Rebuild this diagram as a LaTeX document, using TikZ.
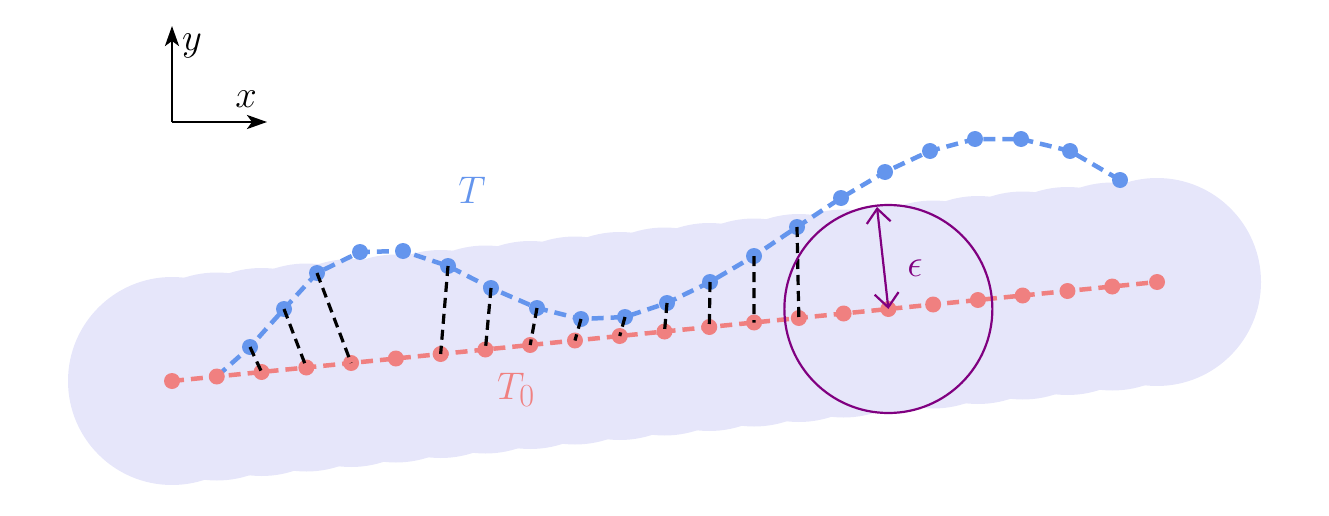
\documentclass[tikz,border=0pt]{standalone}
\usetikzlibrary{arrows.meta}
\definecolor{lav}{RGB}{230,230,250}
\definecolor{tred}{RGB}{240,128,128}
\definecolor{tblue}{RGB}{100,149,237}
\definecolor{tpurp}{RGB}{128,0,128}
\tikzset{
  tube/.style={fill=lav, draw=none},
  redline/.style={tred, line width=4.5pt, dash pattern=on 12pt off 7pt},
  blueline/.style={tblue, line width=4.5pt, dash pattern=on 12pt off 7pt},
  reddot/.style={circle, fill=tred, inner sep=0pt, minimum size=16pt},
  bluedot/.style={circle, fill=tblue, inner sep=0pt, minimum size=16pt},
  match/.style={black, line width=3.2pt, dash pattern=on 10pt off 6pt},
  axis/.style={line width=2.6pt, -{Stealth[length=20pt,width=14pt,inset=5pt]}},
  lbl/.style={font=\Huge, scale=1.55, inner sep=0pt}
}
\begin{document}
\begin{tikzpicture}[x=1pt,y=-1pt]
\useasboundingbox (0,0) rectangle (1329,516);
% tube
\foreach \i in {1,...,23} {
  \fill[tube] ({172+44.773*(\i-1)},{381-4.5*(\i-1)}) circle (104);
}
% red points coordinates
\foreach \i in {1,...,23} {
  \coordinate (r\i) at ({172+44.773*(\i-1)},{381-4.5*(\i-1)});
}
% blue points
\foreach \px/\py [count=\i] in {250/347,284/309,317/273,360/252,403/251,448/266,491/288,537/308,581/319,625/317,667/303,710/282,754/256,797/227,841/198,885/172,930/151,975/139,1021/139,1070/151,1120/180} {
  \coordinate (b\i) at (\px,\py);
}
% lines
\draw[redline] (r1) \foreach \i in {2,...,23} { -- (r\i) };
\draw[blueline] (r2) \foreach \i in {1,...,21} { -- (b\i) };
% dots
\foreach \i in {1,...,23} { \node[reddot] (R\i) at (r\i) {}; }
\foreach \i in {1,...,21} { \node[bluedot] (B\i) at (b\i) {}; }
% matching
\foreach \a/\b in {1/3,2/4,3/5,6/7,7/8,8/9,9/10,10/11,11/12,12/13,13/14,14/15} {
  \draw[match] (B\a.center) -- (R\b.center);
}
% epsilon ball
\node[circle, draw=tpurp, line width=2.2pt, minimum size=208pt, inner sep=0pt] (ball) at (r17) {};
\coordinate (top) at (877,207);
\draw[tpurp, line width=2.2pt, {Straight Barb[length=14pt,width=24pt]}-{Straight Barb[length=14pt,width=24pt]}] (top) -- (R17.center);
\node[lbl, text=tpurp] (eps) at (915,268) {$\epsilon$};
% labels
\node[lbl, text=tblue] (T) at (472,190) {$T$};
\node[lbl, text=tred] (T0) at (516,390) {$T_0$};
% axes
\coordinate (O) at (172,122);
\coordinate (Y) at (172,26);
\coordinate (X) at (267,122);
\draw[axis] (O) -- (Y);
\draw[axis] (O) -- (X);
\node[lbl] (ylab) at (192,46) {$y$};
\node[lbl] (xlab) at (246,99) {$x$};
\end{tikzpicture}
\end{document}
